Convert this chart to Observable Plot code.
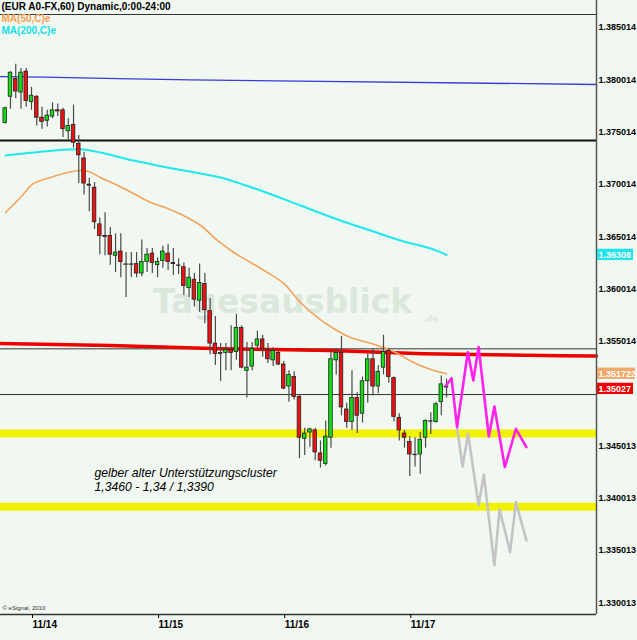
<!DOCTYPE html>
<html><head><meta charset="utf-8">
<script src="https://cdn.jsdelivr.net/npm/d3@7"></script>
<script src="https://cdn.jsdelivr.net/npm/@observablehq/plot@0.6"></script>
<style>
html,body{margin:0;padding:0;background:#f1f8f1;}
#chart svg{display:block}
</style></head><body><div id="chart"></div>
<script>
// ---- hourly candles (EUR/USD, 60 min) ----
const opens = [1.3757,1.3782,1.3799,1.3786,1.3806,1.3777,1.3782,1.3762,1.3759,1.3763,
1.3769,1.3769,1.3749,1.3755,1.3737,1.3723,1.3698,1.3695,1.3660,1.3649,
1.3649,1.3630,1.3634,1.3622,1.3622,1.3622,1.3613,1.3624,1.3632,1.3621,
1.3625,1.3632,1.3623,1.3621,1.3619,1.3599,1.3607,1.3587,1.3603,1.3577,
1.3546,1.3536,1.3537,1.3540,1.3538,1.3561,1.3520,1.3524,1.3544,1.3550,
1.3540,1.3530,1.3537,1.3526,1.3505,1.3514,1.3495,1.3455,1.3461,1.3463,
1.3441,1.3431,1.3456,1.3530,1.3537,1.3483,1.3471,1.3494,1.3479,1.3510,
1.3531,1.3505,1.3523,1.3539,1.3513,1.3475,1.3460,1.3452,1.3440,1.3440,
1.3456,1.3472,1.3471,1.3490,1.3505];
const highs = [1.3772,1.3806,1.3813,1.3809,1.3809,1.3791,1.3783,1.3772,1.3769,1.3776,
1.3775,1.3771,1.3761,1.3774,1.3745,1.3729,1.3704,1.3700,1.3666,1.3671,
1.3657,1.3651,1.3651,1.3633,1.3633,1.3633,1.3645,1.3637,1.3637,1.3628,
1.3639,1.3641,1.3637,1.3627,1.3623,1.3618,1.3613,1.3622,1.3613,1.3589,
1.3572,1.3546,1.3546,1.3563,1.3574,1.3563,1.3547,1.3547,1.3558,1.3554,
1.3546,1.3542,1.3539,1.3529,1.3520,1.3519,1.3497,1.3465,1.3465,1.3465,
1.3453,1.3472,1.3539,1.3541,1.3553,1.3489,1.3520,1.3499,1.3514,1.3536,
1.3541,1.3525,1.3554,1.3541,1.3514,1.3479,1.3463,1.3457,1.3456,1.3461,
1.3473,1.3480,1.3490,1.3515,1.3512];
const lows = [1.3756,1.3770,1.3780,1.3770,1.3772,1.3769,1.3754,1.3751,1.3753,1.3761,
1.3763,1.3743,1.3740,1.3733,1.3699,1.3688,1.3672,1.3655,1.3631,1.3630,
1.3621,1.3614,1.3609,1.3590,1.3609,1.3609,1.3610,1.3614,1.3613,1.3609,
1.3618,1.3616,1.3611,1.3612,1.3592,1.3590,1.3581,1.3576,1.3565,1.3535,
1.3525,1.3510,1.3520,1.3520,1.3530,1.3522,1.3494,1.3520,1.3541,1.3533,
1.3527,1.3524,1.3525,1.3502,1.3490,1.3492,1.3436,1.3439,1.3447,1.3434,
1.3427,1.3429,1.3446,1.3516,1.3477,1.3465,1.3463,1.3460,1.3470,1.3489,
1.3496,1.3498,1.3516,1.3508,1.3471,1.3453,1.3446,1.3419,1.3428,1.3421,
1.3446,1.3459,1.3470,1.3477,1.3494];
const closes = [1.3771,1.3805,1.3787,1.3805,1.3778,1.3783,1.3762,1.3758,1.3764,1.3769,
1.3768,1.3751,1.3754,1.3738,1.3726,1.3699,1.3697,1.3662,1.3649,1.3648,
1.3631,1.3633,1.3624,1.3622,1.3622,1.3613,1.3624,1.3631,1.3623,1.3624,
1.3634,1.3624,1.3622,1.3621,1.3601,1.3609,1.3588,1.3604,1.3578,1.3546,
1.3536,1.3537,1.3540,1.3537,1.3561,1.3523,1.3523,1.3541,1.3550,1.3541,
1.3531,1.3539,1.3526,1.3503,1.3516,1.3495,1.3456,1.3460,1.3464,1.3442,
1.3434,1.3457,1.3531,1.3537,1.3485,1.3471,1.3494,1.3477,1.3510,1.3531,
1.3505,1.3519,1.3538,1.3514,1.3476,1.3463,1.3456,1.3440,1.3440,1.3454,
1.3472,1.3472,1.3488,1.3507,1.3504];

// ---- moving averages (sampled points: bar index, value) ----
const ma50Idx = [0.06,2.9,5.4,8.6,11.9,14.3,15.9,18.1,21.4,24.4,27.7,30.9,33.9,37.2,40.4,43.5,46.7,49.9,53.0,56.2,59.4,62.5,65.7,69.0,72.0,74.7,77.7,81.0,84];
const ma50Val = [1.36713,1.36857,1.36991,1.37048,1.37096,1.37115,1.37105,1.37048,1.36971,1.36895,1.36809,1.36752,1.36685,1.36589,1.36446,1.36331,1.36235,1.36140,1.36035,1.35853,1.35710,1.35604,1.35518,1.35471,1.35423,1.35365,1.35279,1.35212,1.35172];
const ma200Idx = [0.06,5.4,11.9,14.9,18.1,24.4,30.9,37.2,41.0,48.6,56.2,63.8,69.5,75.2,81.0,84];
const ma200Val = [1.37258,1.37287,1.37316,1.37316,1.37287,1.37210,1.37144,1.37086,1.37048,1.36924,1.36780,1.36637,1.36541,1.36446,1.36369,1.36308];

// ---- drawn lines ----
const blueIdx = [-0.9,7.3,21.4,35.3,112.54];
const blueVal = [1.38013,1.38007,1.37994,1.37982,1.37937];
const redIdx = [-0.9,20,41,62,79.6,105.7,112.54];
const redVal = [1.35461,1.35442,1.35410,1.35394,1.35363,1.35343,1.35341];
const thickLevels = [1.37402];
const thinLevels = [1.35410,1.34973];
const supportLevels = [1.3460,1.3390];

// ---- projections ----
const projIdx = [83.9,84.95,86.0,88.05,89.1,90.1,92.05,93.1,95.1,97.2,99.2];
const projVal = [1.35059,1.35129,1.34661,1.35378,1.35107,1.35428,1.34572,1.34859,1.34278,1.34645,1.34470];
const bearIdx = [86.0,87.05,88.1,90.1,91.1,93.1,94.1,96.1,97.2,99.2];
const bearVal = [1.34661,1.34285,1.34598,1.33912,1.34209,1.33339,1.33874,1.33466,1.33944,1.33578];

// ---- axes ----
const dayTicks = [5,29,53,77];
const dayLabels = ["11/14","11/15","11/16","11/17"];
const yTicks = [1.385014,1.380014,1.375014,1.370014,1.365014,1.360014,1.355014,1.345013,1.340013,1.335013,1.330013];
const yTickLabels = ["1.385014","1.380014","1.375014","1.370014","1.365014","1.360014","1.355014","1.345013","1.340013","1.335013","1.330013"];

// ---- price tags ----
const tagValues = [1.36308,1.351722,1.35027];
const tagLabels = ["1.36308","1.351722","1.35027"];
const tagColors = ["#1ee4ee","#f0a868","#f00000"];
const tagWidths = [37,39,37];

// ---- texts ----
const titleText = "(EUR A0-FX,60) Dynamic,0:00-24:00";
const legendTexts = ["MA(50,C)e","MA(200,C)e"];
const noteLines = ["gelber alter Unterstützungscluster","1,3460 - 1,34 / 1,3390"];
const noteIdx = 17;
const noteVals = [1.34219,1.34087];

const FONT = "'Liberation Sans',Arial,sans-serif";
const BG = "#f1f8f1";
const X_DOMAIN = [-0.9, 112.54];
const Y_DOMAIN = [1.328702, 1.386062];

const candles = opens.map((o, i) => ({i, o, h: highs[i], l: lows[i], c: closes[i]}));
const ups = candles.filter(d => d.c - d.o >= 0.00005);
const downs = candles.filter(d => d.o - d.c >= 0.00005);
const dojis = candles.filter(d => Math.abs(d.o - d.c) < 0.00005);
const pts = (xs, ys) => xs.map((x, k) => ({x, y: ys[k]}));
const dayMap = new Map(dayTicks.map((t, k) => [t, dayLabels[k]]));
const yMap = new Map(yTicks.map((t, k) => [t, yTickLabels[k]]));
const tags = tagValues.map((v, k) => ({v, label: tagLabels[k], color: tagColors[k], w: tagWidths[k]}));
const BOX = 0.00054;

const chart = Plot.plot({
  width: 637, height: 640,
  marginLeft: 0, marginRight: 41, marginTop: 14, marginBottom: 26,
  x: {domain: X_DOMAIN},
  y: {domain: Y_DOMAIN},
  style: {background: BG, fontFamily: FONT, color: "#000", overflow: "visible"},
  marks: [
    // watermark
    Plot.text(["Tagesausblick"], {frameAnchor: "middle", dx: -16, dy: -12, fill: "#dce7dc", fontSize: 33, fontWeight: "bold", fontFamily: "'DejaVu Sans',sans-serif"}),
    Plot.text([".de"], {frameAnchor: "middle", dx: 132, dy: 5, fill: "#dce7dc", fontSize: 9, fontWeight: "bold", fontFamily: "'DejaVu Sans',sans-serif"}),
    // support bands
    Plot.ruleY(supportLevels, {stroke: "#f2f200", strokeWidth: 8}),
    // horizontal levels
    Plot.ruleY(thickLevels, {stroke: "#111", strokeWidth: 2}),
    Plot.ruleY(thinLevels, {stroke: "#333", strokeWidth: 1}),
    Plot.line(pts(blueIdx, blueVal), {x: "x", y: "y", stroke: "#3b3bd8", strokeWidth: 1.3}),
    Plot.line(pts(redIdx, redVal), {x: "x", y: "y", stroke: "#ee0000", strokeWidth: 3.5}),
    // MAs
    Plot.line(pts(ma200Idx, ma200Val), {x: "x", y: "y", stroke: "#1ee8ee", strokeWidth: 2, curve: "catmull-rom"}),
    Plot.line(pts(ma50Idx, ma50Val), {x: "x", y: "y", stroke: "#f3a45a", strokeWidth: 1.6, curve: "catmull-rom"}),
    // candles
    Plot.ruleX(candles, {x: "i", y1: "l", y2: "h", stroke: "#4a4a4a", strokeWidth: 1.2}),
    Plot.rect(ups, {x1: d => d.i - 0.34, x2: d => d.i + 0.34, y1: "o", y2: "c", fill: "#11dd11", stroke: "#222", strokeWidth: 0.8}),
    Plot.rect(downs, {x1: d => d.i - 0.34, x2: d => d.i + 0.34, y1: "o", y2: "c", fill: "#ee1111", stroke: "#222", strokeWidth: 0.8}),
    Plot.ruleY(dojis, {y: "c", x1: d => d.i - 0.42, x2: d => d.i + 0.42, stroke: "#222", strokeWidth: 1.2}),
    // projections
    Plot.line(pts(bearIdx, bearVal), {x: "x", y: "y", stroke: "#c4c4c4", strokeWidth: 2.6}),
    Plot.line(pts(projIdx, projVal), {x: "x", y: "y", stroke: "#ff22ee", strokeWidth: 2.6}),
    // frame
    Plot.ruleY([Y_DOMAIN[1]], {stroke: "#333", strokeWidth: 1.2}),
    Plot.ruleY([Y_DOMAIN[0]], {stroke: "#333", strokeWidth: 1.5}),
    Plot.ruleX([X_DOMAIN[1]], {stroke: "#555", strokeWidth: 1.5, insetTop: -14}),
    // axes
    Plot.axisY(yTicks, {anchor: "right", tickSize: 0, tickPadding: 2, tickFormat: d => yMap.get(d), fontSize: 9, fontWeight: "bold", dy: 2}),
    Plot.axisX(dayTicks, {anchor: "bottom", tickSize: 4, tickPadding: 2, tickFormat: d => dayMap.get(d), textAnchor: "start", dx: 1, fontSize: 10, fontWeight: "bold"}),
    // price tags
    ...tags.map(t => Plot.rect([t], {y1: d => d.v - BOX, y2: d => d.v + BOX, fill: t.color, insetLeft: 597, insetRight: -t.w})),
    Plot.text(tags, {y: "v", text: "label", frameAnchor: "right", textAnchor: "start", dx: 2, fill: "white", fontSize: 9, fontWeight: "bold"}),
    // title & legend
    Plot.text([titleText], {frameAnchor: "top-left", textAnchor: "start", lineAnchor: "middle", dx: 1, dy: -8, fontSize: 10, fontWeight: "bold"}),
    Plot.text([legendTexts[0]], {frameAnchor: "top-left", textAnchor: "start", lineAnchor: "middle", dx: 1, dy: 4, fontSize: 10, fontWeight: "bold", fill: "#f0a050"}),
    Plot.text([legendTexts[1]], {frameAnchor: "top-left", textAnchor: "start", lineAnchor: "middle", dx: 1, dy: 16, fontSize: 10, fontWeight: "bold", fill: "#10e0e8"}),
    // note
    Plot.text(noteLines, {x: () => noteIdx, y: (d, k) => noteVals[k], textAnchor: "start", lineAnchor: "middle", fontSize: 12.2, fontStyle: "italic"}),
    Plot.text(["© eSignal, 2010"], {frameAnchor: "bottom-left", textAnchor: "start", lineAnchor: "middle", dx: 2, dy: -6, fontSize: 6, fill: "#333"})
  ]
});
document.getElementById("chart").appendChild(chart);
</script>
</body></html>
